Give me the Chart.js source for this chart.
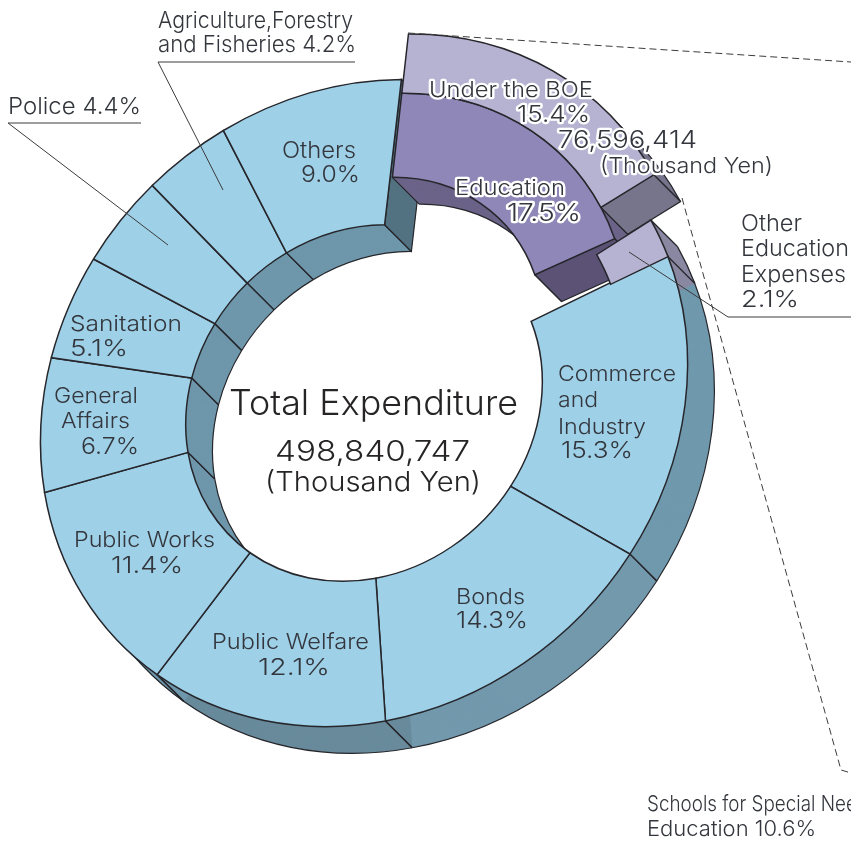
<!DOCTYPE html>
<html><head><meta charset="utf-8">
<script src="https://cdn.jsdelivr.net/npm/chart.js@4"></script>
<style>html,body{margin:0;padding:0;background:#fff;overflow:hidden}canvas{display:block}</style>
</head><body><canvas id="c" width="851" height="844"></canvas>
<script>
// ---- data ----
const categories = ['Commerce and Industry','Bonds','Public Welfare','Public Works','General Affairs','Sanitation','Police','Agriculture,Forestry and Fisheries','Others','Education'];
const mainShare = [15.3,14.3,12.1,11.4,6.7,5.1,4.4,4.2,9.0,17.5];
const educationShare = [17.5,82.5];
const boeShare = [15.4,84.6];
const otherEducationShare = [2.1,97.9];

// ---- styling / layout ----
const TOP_BLUE='#9ed0e8', END_BLUE='#527282';
const WALLS_BLUE=['#7099ad','#7399ad','#698b9c','#6f97ab','#6f97ab','#6f97ab','#6f97ab','#6f97ab','#6f97ab'];
const TOP_EDU='#8f87b8', WALL_EDU='#6c6489', END_EDU='#5b5275';
const TOP_BOE='#b6b2d1', WALL_BOE='#77758c', WALL_OTHER='#8a88a2';
const LINE='#26262b', CLEAR='rgba(0,0,0,0)';
const CX=364, CY=403, SKEW=0.06, DEPTH=28.5;
const RING_MAIN={inner:178,outer:323,dx:0,dy:0};
const RING_EDU={inner:170,outer:254,dx:6,dy:-55};
const RING_BOE={inner:254,outer:313,dx:6,dy:-55};
const RING_OTHER={inner:262,outer:323,dx:0,dy:0};
const FONT='Inter, "Noto Sans", sans-serif';

// [text, left, right, baseline, size, outlined]
const labels=[
['Agriculture,Forestry',158,353,28,23],['and Fisheries 4.2%',158,356,52,23],
['Police 4.4%',8,141,114,23],
['Others',282,356,158,23],['9.0%',301,360,182,23],
['Sanitation',70,182,331,22],['5.1%',70,128,356,23],
['General',54,138,403,22],['Affairs',61,130,428,22],['6.7%',81,139,454,23],
['Public Works',74,215,547,22],['11.4%',111,183,573,23],
['Public Welfare',212,369,649,22],['12.1%',258,330,675,23],
['Bonds',456,525,604,22],['14.3%',456,528,628,23],
['Commerce',558,676,381,22],['and',558,598,407,22],['Industry',558,646,434,22],['15.3%',561,633,458,23],
['Total Expenditure',229,518,415,35],['498,840,747',275,470,461,29],['(Thousand Yen)',265,481,491,27],
['Under the BOE',429,593,97,22,true],['15.4%',517,590,122,23,true],['76,596,414',558,697,148,24,true],['(Thousand Yen)',600,773,173,22,true],
['Education',455,565,195,22,true],['17.5%',507,581,221,24,true],
['Other',741,802,231,23],['Education',741,849,256,23],['Expenses',741,846,282,23],['2.1%',741,799,307,23],
['Schools for Special Needs',647,878,811,22],['Education 10.6%',647,816,836,22]
];
const leaders=[
[[158,62],[355,62]],[[158,62],[223,190]],
[[8,123],[141,123]],[[8,123],[168,245]],
[[629,252],[728,317],[851,317]]
];
const dashes=[[[408,33],[851,62]],[[682,198],[841,770],[851,773]]];

function ringPath(ctx,a,ox,oy){
  ctx.beginPath();
  ctx.arc(a.x+ox,a.y+oy,a.outerRadius,a.startAngle,a.endAngle);
  ctx.arc(a.x+ox,a.y+oy,a.innerRadius,a.endAngle,a.startAngle,true);
  ctx.closePath();
}
function corner(a,r,ang,s){return [a.x+Math.cos(ang)*r+s,a.y+Math.sin(ang)*r+s];}
function seg(ctx,p,q){ctx.beginPath();ctx.moveTo(p[0],p[1]);ctx.lineTo(q[0],q[1]);ctx.stroke();}
function fillWall(ctx,a,color){
  for(let s=DEPTH;s>=0;s-=0.5){ringPath(ctx,a,s,s);ctx.fillStyle=color;ctx.fill();}
}
function strokeWall(ctx,a,endColor){
  ctx.strokeStyle=LINE;ctx.lineWidth=1.2;
  ctx.beginPath();ctx.arc(a.x+DEPTH,a.y+DEPTH,a.outerRadius,a.startAngle,a.endAngle);ctx.stroke();
  ctx.beginPath();ctx.arc(a.x+DEPTH,a.y+DEPTH,a.innerRadius,a.startAngle,a.endAngle);ctx.stroke();
  [a.startAngle,a.endAngle].forEach(ang=>{
    [a.innerRadius,a.outerRadius].forEach(r=>seg(ctx,corner(a,r,ang,0),corner(a,r,ang,DEPTH)));
  });
  if(endColor){
    const p=[corner(a,a.outerRadius,a.endAngle,0),corner(a,a.innerRadius,a.endAngle,0),corner(a,a.innerRadius,a.endAngle,DEPTH),corner(a,a.outerRadius,a.endAngle,DEPTH)];
    ctx.beginPath();p.forEach((q,i)=>i?ctx.lineTo(q[0],q[1]):ctx.moveTo(q[0],q[1]));ctx.closePath();
    ctx.fillStyle=endColor;ctx.fill();ctx.stroke();
  }
}
function drawWall(ctx,a,color,endColor){fillWall(ctx,a,color);strokeWall(ctx,a,endColor);}
function setRing(a,ring,cx,cy){
  a.x=cx+ring.dx;a.y=cy+ring.dy;a.innerRadius=ring.inner;a.outerRadius=ring.outer;
}
const solid3d={
  id:'solid3d',
  afterDatasetsUpdate(chart){
    const ca=chart.chartArea,cx=(ca.left+ca.right)/2,cy=(ca.top+ca.bottom)/2;
    [RING_OTHER,RING_BOE,RING_EDU,RING_MAIN].forEach((ring,d)=>{
      chart.getDatasetMeta(d).data.forEach(a=>setRing(a,ring,cx,cy));
    });
  },
  beforeDatasetsDraw(chart){
    const c=chart.ctx;c.save();
    c.translate(CX,CY);c.transform(1,-SKEW,-SKEW,1,0,0);c.translate(-CX,-CY);
  },
  beforeDatasetDraw(chart,args){
    const c=chart.ctx;
    if(args.index===3){
      const m=chart.getDatasetMeta(3).data.slice(0,-1);
      m.forEach((a,i)=>fillWall(c,a,WALLS_BLUE[i]));
      m.forEach((a,i)=>strokeWall(c,a,i===m.length-1?END_BLUE:null));
      drawWall(c,chart.getDatasetMeta(0).data[0],WALL_OTHER,null);
    }
    if(args.index===2){
      drawWall(c,chart.getDatasetMeta(2).data[0],WALL_EDU,END_EDU);
      drawWall(c,chart.getDatasetMeta(1).data[0],WALL_BOE,WALL_BOE);
    }
  },
  afterDatasetsDraw(chart){chart.ctx.restore();},
  afterDraw(chart){
    const c=chart.ctx;c.save();
    c.lineWidth=1;c.strokeStyle='#3c3c3c';
    const poly=p=>{c.beginPath();p.forEach((q,i)=>i?c.lineTo(q[0],q[1]):c.moveTo(q[0],q[1]));c.stroke();};
    leaders.forEach(poly);
    c.setLineDash([7,4]);dashes.forEach(poly);c.setLineDash([]);
    c.textBaseline='alphabetic';c.textAlign='left';
    labels.forEach(([t,l,r,b,s,outlined])=>{
      c.font=`300 ${s}px ${FONT}`;
      const w=c.measureText(t).width;
      c.save();c.translate(l,b);c.scale((r-l)/w,1);
      if(outlined){c.lineJoin='round';c.lineWidth=4.5;c.strokeStyle='#fff';c.strokeText(t,0,0);}
      c.fillStyle=s>=27?'#262425':'#33363c';
      c.fillText(t,0,0);c.restore();
    });
    c.restore();
  }
};
const arcBase={clip:false,borderColor:LINE,borderJoinStyle:'miter'};
new Chart(document.getElementById('c'),{
  type:'doughnut',
  data:{labels:categories,datasets:[
    {...arcBase,label:'Other Education Expenses',data:otherEducationShare,rotation:59,
     backgroundColor:[TOP_BOE,CLEAR],borderWidth:[1.5,0]},
    {...arcBase,label:'Under the BOE',data:boeShare,rotation:3,circumference:370,
     backgroundColor:[TOP_BOE,CLEAR],borderWidth:[1.5,0]},
    {...arcBase,label:'Education',data:educationShare,rotation:3,circumference:372,
     backgroundColor:[TOP_EDU,CLEAR],borderWidth:[1.5,0]},
    {...arcBase,label:'Expenditure',data:mainShare,rotation:66.2,
     backgroundColor:mainShare.map((v,i)=>i===mainShare.length-1?CLEAR:TOP_BLUE),
     borderWidth:mainShare.map((v,i)=>i===mainShare.length-1?0:1.5)}
  ]},
  options:{
    responsive:false,animation:false,
    radius:323,cutout:178,
    layout:{padding:{left:0,top:0,right:851-2*CX,bottom:844-2*CY}},
    plugins:{legend:{display:false},tooltip:{enabled:false}},
    events:[]
  },
  plugins:[solid3d]
});
</script></body></html>
